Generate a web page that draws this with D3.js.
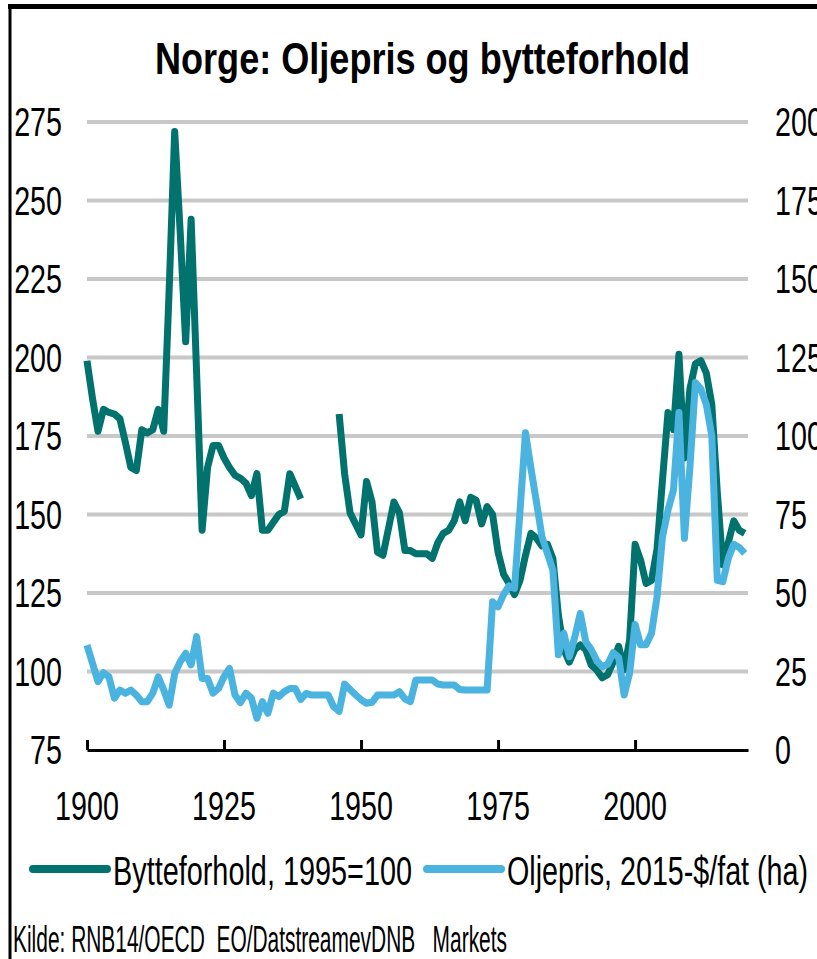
<!DOCTYPE html>
<html>
<head>
<meta charset="utf-8">
<script src="https://cdn.jsdelivr.net/npm/d3@7"></script>
<style>
  body { margin: 0; background: #fff; }
  text { font-family: "Liberation Sans", Arial, sans-serif; fill: #000; white-space: pre; }
</style>
</head>
<body>
<script>
// years on the category axis
var years = d3.range(1900, 2021);

// Bytteforhold, 1995=100 (left axis), gap 1940-1945
var bytteforhold = [
  199, 187, 176.5, 183.5, 182.5, 182, 180.5, 173, 165, 164,
  177, 176, 177, 183.5, 176.5, 222, 272, 240, 205, 244,
  195, 145, 165, 172, 172, 168, 165, 162.5, 161.5, 160,
  156, 163, 145, 145, 147.5, 150, 151, 163, 159, 155,
  null, null, null, null, null, null, 182, 163, 150.5, 147,
  143.5, 160.5, 154, 138, 137, 145.5, 154, 150.5, 138.5, 138.5,
  137.5, 137.5, 137.5, 136, 141, 144, 145, 148, 154, 148,
  155.5, 154.5, 147, 152.5, 150, 138, 131, 128, 124.5, 129,
  137, 144, 142.5, 140, 140.5, 136, 118, 107, 103, 107,
  108.5, 107, 102, 100.5, 98, 99, 103, 108, 100.5, 110,
  140.5, 135.5, 128, 129, 139, 161, 182.5, 177, 201, 168,
  190, 198, 199, 195, 185, 157, 134, 141, 148, 145, 144
];

// Oljepris, 2015-$/fat (right axis)
var oljepris = [
  33.4, 27.6, 21.8, 24.6, 23.3, 16.5, 19.1, 18.1, 19.1, 17.5,
  15.4, 15.4, 18.1, 23.3, 19.1, 14.3, 24.4, 28.1, 30.8, 27.1,
  36.1, 22.8, 22.8, 18.1, 19.6, 23.3, 26, 17.5, 15.1, 18.1,
  16.5, 10.1, 15.4, 11.7, 18.1, 17, 18.6, 19.6, 19.6, 16.1,
  18, 17.5, 17.5, 17.5, 17.5, 13.8, 12.3, 21, 19.3, 17.6,
  16, 14.9, 15.2, 17.5, 17.5, 17.5, 17.5, 18.6, 16.3, 15.4,
  22.3, 22.3, 22.3, 22.3, 21, 20.7, 20.7, 20.7, 19.3, 19.1,
  19.1, 19.1, 19.1, 19.1, 47.2, 45.6, 49.5, 52.3, 51.5, 76,
  101, 89.7, 79, 68, 62.6, 57.3, 30.3, 37.2, 29.7, 36,
  43.5, 34.5, 32, 28.5, 26.5, 27.3, 31, 29.5, 17.5, 24.5,
  40, 33.5, 33.5, 37.2, 48.8, 67.9, 76.4, 82.8, 107.5, 67.4,
  90, 117, 115, 110, 100, 54, 53.6, 61, 65.5, 64.5, 62.6
];

var xTicks = [1900, 1925, 1950, 1975, 2000];
var leftTicks = [75, 100, 125, 150, 175, 200, 225, 250, 275];
var rightTicks = [0, 25, 50, 75, 100, 125, 150, 175, 200];

var seriesNames = ["Bytteforhold, 1995=100", "Oljepris, 2015-$/fat (ha)"];
var seriesColors = ["#01726e", "#4ab3df"];
var title = "Norge: Oljepris og bytteforhold";
var source = "Kilde: RNB14/OECD  EO/DatstreamevDNB   Markets";

var W = 817, H = 959;
var SQ = 0.7; // narrow font look

var svg = d3.select("body").append("svg")
    .attr("width", W)
    .attr("height", H);

var x = d3.scaleLinear().domain([1900, 2020.6]).range([87, 748]);
var yL = d3.scaleLinear().domain([75, 275]).range([750, 122]);
var yR = d3.scaleLinear().domain([0, 200]).range([750, 122]);

function label(x0, y0, str, anchor, size, weight) {
  return svg.append("text")
      .attr("transform", "translate(" + x0 + "," + y0 + ") scale(" + SQ + ",1)")
      .attr("text-anchor", anchor)
      .style("font-size", size + "px")
      .style("font-weight", weight || "normal")
      .text(str);
}

// frame
svg.append("line").attr("x1", 8).attr("x2", W).attr("y1", 6.5).attr("y2", 6.5)
    .attr("stroke", "#000").attr("stroke-width", 5);
svg.append("line").attr("x1", 10).attr("x2", 10).attr("y1", 4).attr("y2", H)
    .attr("stroke", "#000").attr("stroke-width", 3);

// title
svg.append("text")
    .attr("x", 155).attr("y", 74)
    .attr("textLength", 535)
    .attr("lengthAdjust", "spacingAndGlyphs")
    .style("font-size", "45px")
    .style("font-weight", "bold")
    .text(title);

// gridlines
svg.append("g").selectAll("line")
    .data(leftTicks.filter(function(d) { return d > 75; }))
    .enter().append("line")
      .attr("x1", 87).attr("x2", 748)
      .attr("y1", function(d) { return yL(d); })
      .attr("y2", function(d) { return yL(d); })
      .attr("stroke", "#c8c8c8")
      .attr("stroke-width", 4);

// y labels
leftTicks.forEach(function(d) {
  label(62, yL(d), String(d), "end", 41).attr("dy", "0.35em");
});
rightTicks.forEach(function(d) {
  label(775, yR(d), String(d), "start", 41).attr("dy", "0.35em");
});

// x axis
var xAxis = svg.append("g")
    .attr("transform", "translate(0,750)")
    .call(d3.axisBottom(x).tickValues(xTicks).tickSize(-10).tickSizeOuter(0).tickFormat(""));
xAxis.select(".domain").attr("stroke", "#000").attr("stroke-width", 3);
xAxis.selectAll(".tick line").attr("stroke", "#000").attr("stroke-width", 3);

xTicks.forEach(function(d) {
  label(x(d), 820, String(d), "middle", 41);
});

// lines
var lineL = d3.line()
    .defined(function(d) { return d[1] != null; })
    .x(function(d) { return x(d[0]); })
    .y(function(d) { return yL(d[1]); });
var lineR = d3.line()
    .x(function(d) { return x(d[0]); })
    .y(function(d) { return yR(d[1]); });

svg.append("path")
    .datum(years.map(function(y, i) { return [y, bytteforhold[i]]; }))
    .attr("d", lineL)
    .attr("fill", "none")
    .attr("stroke", seriesColors[0])
    .attr("stroke-width", 7)
    .attr("stroke-linejoin", "round");

svg.append("path")
    .datum(years.map(function(y, i) { return [y, oljepris[i]]; }))
    .attr("d", lineR)
    .attr("fill", "none")
    .attr("stroke", seriesColors[1])
    .attr("stroke-width", 7)
    .attr("stroke-linejoin", "round");

// legend
var legendPos = [[33, 113, 299], [427, 507, 301]];
seriesNames.forEach(function(name, i) {
  var p = legendPos[i];
  svg.append("line")
      .attr("x1", p[0]).attr("x2", p[0] + 74)
      .attr("y1", 869).attr("y2", 869)
      .attr("stroke", seriesColors[i])
      .attr("stroke-width", 8)
      .attr("stroke-linecap", "round");
  svg.append("text")
      .attr("x", p[1]).attr("y", 885)
      .attr("textLength", p[2])
      .attr("lengthAdjust", "spacingAndGlyphs")
      .style("font-size", "41px")
      .text(name);
});

// source
svg.append("text")
    .attr("x", 13).attr("y", 952)
    .attr("textLength", 494)
    .attr("lengthAdjust", "spacingAndGlyphs")
    .style("font-size", "37px")
    .text(source);
</script>
</body>
</html>
